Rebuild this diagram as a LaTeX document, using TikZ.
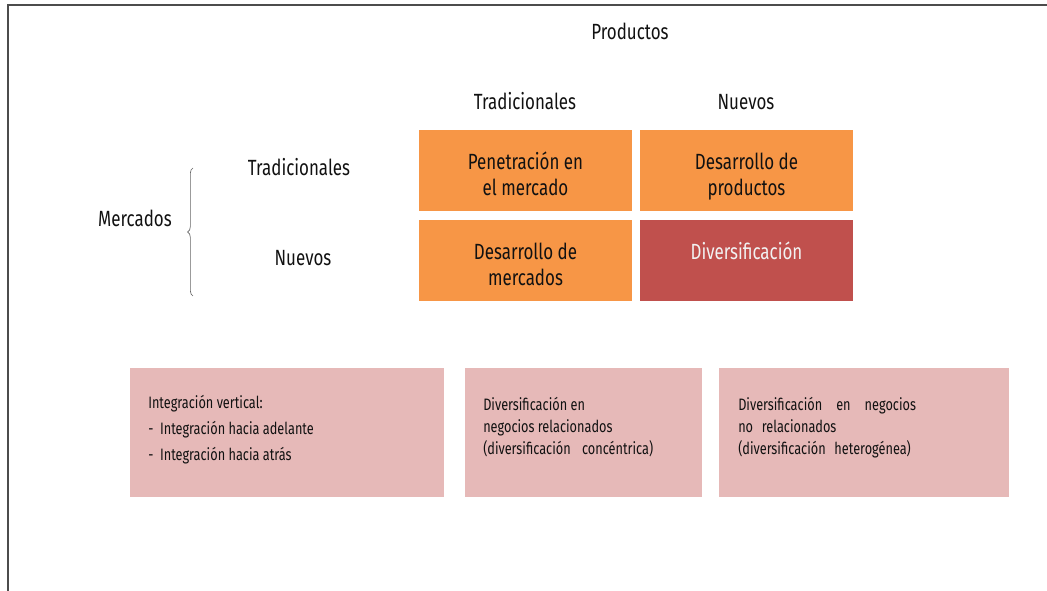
\documentclass[tikz,border=0pt]{standalone}
\usepackage{fontspec}
\setmainfont{Fira Sans}[FakeStretch=0.77]
\usetikzlibrary{decorations.pathreplacing}

\definecolor{cellorange}{HTML}{F79646}
\definecolor{cellred}{HTML}{C0504D}
\definecolor{optpink}{HTML}{E6B9B8}
\definecolor{inkgray}{HTML}{111111}

% soportes para bajar el texto de las celdas
\newcommand{\celltop}{\rule{0pt}{21.5pt}}
\newcommand{\cellbot}{\rule[-3.5pt]{0pt}{3.5pt}}

\tikzset{
  head/.style={anchor=base, inner sep=0pt, text=inkgray, font=\fontsize{16.5}{20}\selectfont},
  cell/.style={fill=cellorange, minimum width=159.75pt, minimum height=61pt, inner sep=0pt,
    align=center, text=inkgray, font=\fontsize{16.5}{20}\selectfont},
  optbox/.style={fill=optpink, inner sep=0pt, minimum height=96.75pt},
  opttext/.style={anchor=north west, inner sep=0pt, align=left, text=inkgray,
    font=\fontsize{12.4}{16.5}\selectfont},
  frame/.style={draw=black!70, line width=1.2pt},
  brace/.style={draw=black!60, line width=0.5pt, decorate, decoration={brace, amplitude=4pt}}
}

\begin{document}
\begin{tikzpicture}[x=0.75pt,y=-0.75pt]
\useasboundingbox (0,0) rectangle (1047,591);
% marco
\draw[frame] (8,591) -- (8,5) -- (1047,5);

% encabezados
\node[head] (prod) at (630,40) {Productos};
\node[head] (ptrad) at (525,110) {Tradicionales};
\node[head] (pnue) at (746,110) {Nuevos};
\node[head] (mtrad) at (299,176) {Tradicionales};
\node[head] (mnue) at (303,266) {Nuevos};
\node[head] (merc) at (135,227) {Mercados};

% llave
\coordinate (brtop) at (193,168);
\coordinate (brbot) at (193,296);
\draw[brace] (brbot) -- (brtop);

% matriz
\node[cell] (pen) at (525.5,170.5) {\celltop Penetración en\\el mercado\cellbot};
\node[cell] (dprod) at (746.5,170.5) {\celltop Desarrollo de\\productos\cellbot};
\node[cell] (dmerc) at (525.5,260.5) {\celltop Desarrollo de\\mercados\cellbot};
\node[cell, fill=cellred, text=white!95!black] (divers) at (746.5,260.5) {\celltop Diversificación\\\cellbot};

% estrategias
\node[optbox, minimum width=235.5pt] (vert) at (287,432.5) {};
\node[optbox, minimum width=177.75pt] (rel) at (583.5,432.5) {};
\node[optbox, minimum width=217.5pt] (norel) at (864,432.5) {};

\node[opttext] (verttxt) at (148,395) {Integración vertical:\\[3pt]
  -\hspace{5pt}Integración hacia adelante\\[3pt]
  -\hspace{5pt}Integración hacia atrás};
\node[opttext] (reltxt) at (483,397) {Diversificación en\\negocios relacionados\\
  (diversificación\hspace{6pt} concéntrica)};
\node[opttext] (noreltxt) at (738,397) {Diversificación\hspace{8pt} en\hspace{8pt} negocios\\
  no\hspace{4pt} relacionados\\(diversificación\hspace{4pt} heterogénea)};
\end{tikzpicture}
\end{document}
